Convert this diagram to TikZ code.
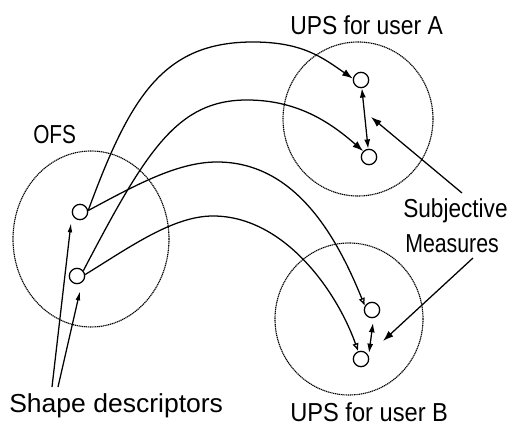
\documentclass[tikz,border=0pt]{standalone}
\usepackage{fontspec}
\usepackage{graphicx}
\setmainfont{Liberation Sans}
\usetikzlibrary{arrows.meta}
\begin{document}
\begin{tikzpicture}[x=0.75pt,y=-0.75pt,
  bigc/.style={line width=0.85pt, dash pattern=on 0.9pt off 0.5pt},
  dot/.style={circle, draw, line width=0.95pt, minimum size=11.5pt, inner sep=0pt},
  conn/.style={line width=0.95pt},
  fa/.style={-{Latex[length=8pt,width=5.5pt]}},
  oa/.style={-{Latex[open,length=6pt,width=5pt]}},
  da/.style={{Latex[length=7pt,width=4.5pt]}-{Latex[length=7pt,width=4.5pt]}},
  na/.style={-{Latex[length=7pt,width=3.5pt]}},
  lbl/.style={inner sep=0pt, anchor=base west, font=\fontsize{19.5}{22}\selectfont}
]
\useasboundingbox (0,0) rectangle (508,427);

% feature spaces
\draw[bigc] (91,239) ellipse [x radius=78, y radius=88];
\draw[bigc] (358,119) ellipse [x radius=75, y radius=77];
\draw[bigc] (349,319) ellipse [x radius=74, y radius=76];

% points
\node[dot] (o1) at (80,212) {};
\node[dot] (o2) at (77,276) {};
\node[dot] (a1) at (361,80) {};
\node[dot] (a2) at (369,157) {};
\node[dot] (b1) at (372,310) {};
\node[dot] (b2) at (361,359) {};

% mappings
\draw[conn,fa] (o1.10) .. controls (130,97) and (163,42) .. (253,42)
  .. controls (303,42) and (323,58) .. (a1.170);
\draw[conn,fa] (o2.40) .. controls (146,151) and (177,100) .. (247,100)
  .. controls (297,100) and (330,122) .. (a2.135);
\draw[conn,oa] (o1.10) .. controls (134,186) and (177,162) .. (217,162)
  .. controls (297,162) and (338,240) .. (b1.150);
\draw[conn,oa] (o2.10) .. controls (130,247) and (173,216) .. (213,216)
  .. controls (283,216) and (336,289) .. (b2.110);

% subjective measures
\draw[conn,da] (a1) -- (a2);
\coordinate (bd1) at (373,323);
\coordinate (bd2) at (369,353);
\draw[conn,da] (bd1) -- (bd2);

% labels
\node[lbl] (ofs) at (33,144) {\scalebox{0.8}[1]{OFS}};
\node[lbl] (upsa) at (290,35) {\scalebox{0.88}[1]{UPS for user A}};
\node[lbl] (upsb) at (290,422) {\scalebox{0.91}[1]{UPS for user B}};
\node[lbl] (subj) at (403,218) {\scalebox{0.87}[1]{Subjective}};
\node[lbl] (meas) at (405,253) {\scalebox{0.82}[1]{Measures}};
\node[lbl] (shape) at (9,413) {\scalebox{1.02}[1]{Shape descriptors}};

% pointer arrows
\coordinate (s1) at (462,193);
\coordinate (s1t) at (371,117);
\coordinate (s2) at (473,258);
\coordinate (s2t) at (383,341);
\draw[conn,fa] (s1) -- (s1t);
\draw[conn,fa] (s2) -- (s2t);

\coordinate (d1) at (52,387);
\coordinate (d1t) at (71,223);
\coordinate (d2) at (58,387);
\coordinate (d2t) at (80,291);
\draw[conn,na] (d1) -- (d1t);
\draw[conn,na] (d2) -- (d2t);
\end{tikzpicture}
\end{document}
